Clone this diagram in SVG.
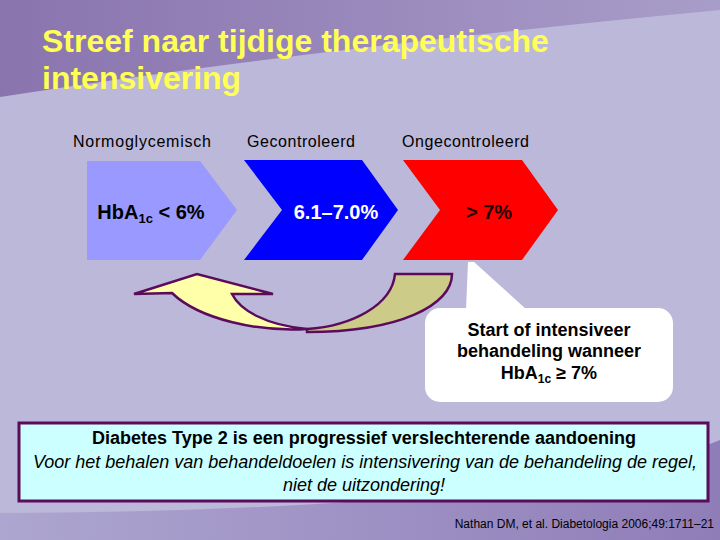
<svg xmlns="http://www.w3.org/2000/svg" width="720" height="540" viewBox="0 0 720 540">
  <defs>
    <linearGradient id="topBand" x1="0" y1="0" x2="1" y2="0">
      <stop offset="0" stop-color="#8A74AE"/>
      <stop offset="1" stop-color="#A89DC9"/>
    </linearGradient>
    <linearGradient id="botBand" x1="0" y1="0" x2="1" y2="0">
      <stop offset="0" stop-color="#ADA6D0"/>
      <stop offset="1" stop-color="#8F7DB8"/>
    </linearGradient>
    <style>
      .title { font-family: "Liberation Sans", Arial, sans-serif; font-size: 32px; font-weight: bold; fill: #FFFF55; }
      .lbl { font-family: "Liberation Sans", Arial, sans-serif; font-size: 16px; fill: #000000; }
      .chev { font-family: "Liberation Sans", Arial, sans-serif; font-size: 20px; font-weight: bold; text-anchor: middle; }
      .call { font-family: "Liberation Sans", Arial, sans-serif; font-size: 18px; font-weight: bold; fill: #000000; text-anchor: middle; }
      .box1 { font-family: "Liberation Sans", Arial, sans-serif; font-size: 18px; font-weight: bold; fill: #000000; text-anchor: middle; }
      .box2 { font-family: "Liberation Sans", Arial, sans-serif; font-size: 18px; font-style: italic; fill: #000000; text-anchor: middle; }
      .foot { font-family: "Liberation Sans", Arial, sans-serif; font-size: 12px; fill: #000000; text-anchor: end; }
      .arrowPart { stroke: #5B0B5B; stroke-width: 2.5; stroke-linejoin: miter; }
    </style>
  </defs>

  <!-- background -->
  <rect x="0" y="0" width="720" height="540" fill="#BBB8D9"/>
  <path d="M0,0 L720,0 L720,10 Q300,50 0,97 Z" fill="url(#topBand)"/>
  <path d="M0,513 Q550,510 720,440 L720,540 L0,540 Z" fill="url(#botBand)"/>

  <!-- title -->
  <g id="title">
    <text class="title" x="42" y="52">Streef naar tijdige therapeutische</text>
    <text class="title" x="42" y="89">intensivering</text>
  </g>

  <!-- stage labels -->
  <g id="labels">
    <text class="lbl" x="73" y="147" textLength="138" lengthAdjust="spacing">Normoglycemisch</text>
    <text class="lbl" x="247" y="147" textLength="108" lengthAdjust="spacing">Gecontroleerd</text>
    <text class="lbl" x="402" y="147" textLength="127" lengthAdjust="spacing">Ongecontroleerd</text>
  </g>

  <!-- chevrons -->
  <g id="node-normoglycemisch">
    <polygon points="87,161 200,161 237,210 200,260 87,260" fill="#9999FF"/>
    <text class="chev" x="151" y="219" fill="#000000">HbA<tspan font-size="13" dy="4">1c</tspan><tspan dy="-4"> &lt; 6%</tspan></text>
  </g>
  <g id="node-gecontroleerd">
    <polygon points="244,160 362,160 398,210 362,260 244,260 282,210" fill="#0000FF"/>
    <text class="chev" x="336" y="219" fill="#FFFFFF">6.1–7.0%</text>
  </g>
  <g id="node-ongecontroleerd">
    <polygon points="403,160 522,160 558,210 522,260 403,260 440,210" fill="#FF0000"/>
    <text class="chev" x="489" y="219" fill="#220000">&gt; 7%</text>
  </g>

  <!-- connectors: curved return arrow -->
  <g id="connectors">
    <path class="arrowPart" d="M307,329 C352,326 392,305 395,274 L452,274 C452,305 400,332 307,332 Z" fill="#CCCB88"/>
    <path class="arrowPart" d="M172,293 L134,294 L197,274 L273,294 L232,294 C240,310 265,325 307,329 C260,332 200,320 172,293 Z" fill="#FFFFAA"/>
  </g>

  <!-- callout -->
  <g id="callout">
    <polygon points="466,310 468,262 474,262 527,310" fill="#FFFFFF"/>
    <rect x="425" y="308" width="248" height="94" rx="15" ry="15" fill="#FFFFFF"/>
    <text class="call" x="549" y="336">Start of intensiveer</text>
    <text class="call" x="549" y="357">behandeling wanneer</text>
    <text class="call" x="549" y="379">HbA<tspan font-size="12" dy="4">1c</tspan><tspan dy="-4"> ≥ 7%</tspan></text>
  </g>

  <!-- bottom statement box -->
  <g id="statement">
    <rect x="19" y="423" width="689" height="78" fill="#CCFFFF" stroke="#5B0B5B" stroke-width="3"/>
    <text class="box1" x="364" y="444">Diabetes Type 2 is een progressief verslechterende aandoening</text>
    <text class="box2" x="365" y="468" textLength="664" lengthAdjust="spacing">Voor het behalen van behandeldoelen is intensivering van de behandeling de regel,</text>
    <text class="box2" x="364" y="491">niet de uitzondering!</text>
  </g>

  <!-- footer reference -->
  <g id="footer">
    <text class="foot" x="714" y="528">Nathan DM, et al. Diabetologia 2006;49:1711–21</text>
  </g>
</svg>
